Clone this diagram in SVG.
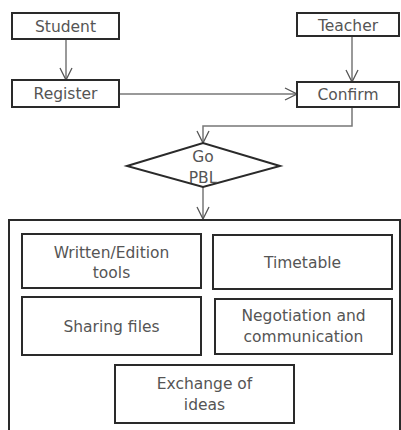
<svg xmlns="http://www.w3.org/2000/svg" width="401" height="430" viewBox="0 0 401 430">
<defs>
<style>
.box{fill:#fff;stroke:#2a2a2a;stroke-width:2}
.t{font-family:"DejaVu Sans","Liberation Sans",sans-serif;font-size:15.5px;fill:#555;text-anchor:middle}
.c{fill:none;stroke:#777;stroke-width:1.5}
</style>
<marker id="ah" viewBox="0 0 14 14" refX="13" refY="7" markerWidth="14" markerHeight="14" markerUnits="userSpaceOnUse" orient="auto">
<path d="M1,1 L13,7 L1,13" fill="none" stroke="#555" stroke-width="1.3"/>
</marker>
</defs>
<rect width="401" height="430" fill="#fff"/>
<g id="connectors">
<line class="c" x1="66" y1="39" x2="66" y2="80" marker-end="url(#ah)"/>
<line class="c" x1="352" y1="36" x2="352" y2="82" marker-end="url(#ah)"/>
<line class="c" x1="119" y1="94" x2="297" y2="94" marker-end="url(#ah)"/>
<polyline class="c" points="352,107 352,126 203,126 203,143" marker-end="url(#ah)"/>
<line class="c" x1="203" y1="187" x2="203" y2="219" marker-end="url(#ah)"/>
</g>
<g id="student"><rect class="box" x="12" y="13" width="107" height="26"/><text class="t" x="65.5" y="32">Student</text></g>
<g id="teacher"><rect class="box" x="297" y="13" width="102" height="23"/><text class="t" x="348" y="31">Teacher</text></g>
<g id="register"><rect class="box" x="12" y="80" width="107" height="27"/><text class="t" x="65.5" y="99">Register</text></g>
<g id="confirm"><rect class="box" x="297" y="82" width="102" height="25"/><text class="t" x="348" y="100">Confirm</text></g>
<g id="gopbl"><polygon class="box" points="127,166 203,143 280,166 203,187"/><text class="t" x="203" y="162">Go</text><text class="t" x="203" y="183">PBL</text></g>
<g id="container"><rect class="box" x="9" y="220" width="391" height="215"/></g>
<g id="written"><rect class="box" x="22" y="234" width="179" height="54"/><text class="t" x="111.5" y="258">Written/Edition</text><text class="t" x="111.5" y="278">tools</text></g>
<g id="timetable"><rect class="box" x="213" y="235" width="179" height="54"/><text class="t" x="302.5" y="268">Timetable</text></g>
<g id="sharing"><rect class="box" x="22" y="297" width="179" height="58"/><text class="t" x="111.5" y="332">Sharing files</text></g>
<g id="negotiation"><rect class="box" x="215" y="299" width="177" height="55"/><text class="t" x="303.5" y="321">Negotiation and</text><text class="t" x="303.5" y="342">communication</text></g>
<g id="exchange"><rect class="box" x="115" y="365" width="179" height="58"/><text class="t" x="204.5" y="389">Exchange of</text><text class="t" x="204.5" y="410">ideas</text></g>
</svg>
